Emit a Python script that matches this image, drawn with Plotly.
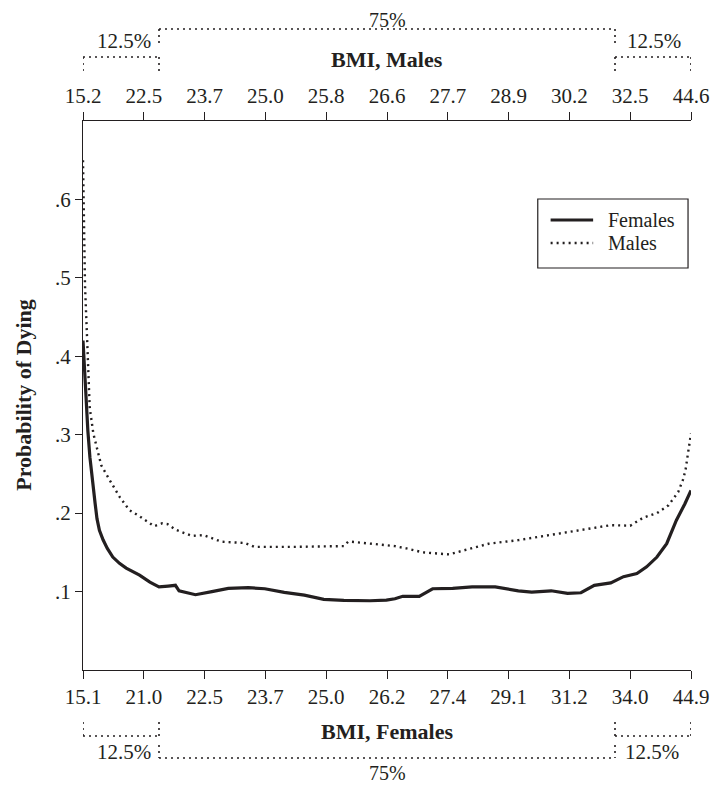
import plotly.graph_objects as go

# Percentile position (0-100) along the BMI distribution
female_pos = [0, 0.25, 0.5, 0.8, 1.14, 1.4, 1.7, 2.0, 2.3, 2.7, 3.3, 4.0, 4.9, 6.0, 7.1, 8.2, 9.3,
              11.0, 12.5, 14.0, 15.2, 15.8, 17.0, 18.5, 21.2, 23.9, 27.2, 29.9, 33.1, 36.4, 39.6,
              42.9, 47.2, 49.9, 51.3, 52.6, 55.3, 57.5, 60.8, 64.0, 67.8, 71.6, 73.8, 77.0, 79.7,
              81.9, 84.1, 86.8, 88.9, 91.1, 92.7, 94.4, 96.0, 97.6, 99.0, 100]
female_prob = [0.42, 0.38, 0.344, 0.305, 0.271, 0.25, 0.233, 0.212, 0.193, 0.178, 0.166, 0.155, 0.144,
               0.136, 0.130, 0.125, 0.121, 0.112, 0.106, 0.107, 0.108, 0.101, 0.099, 0.096, 0.100,
               0.104, 0.105, 0.1036, 0.099, 0.0955, 0.090, 0.0888, 0.0883, 0.089, 0.0908, 0.094,
               0.094, 0.1036, 0.104, 0.106, 0.106, 0.101, 0.0994, 0.101, 0.0977, 0.0985, 0.108,
               0.111, 0.119, 0.123, 0.1316, 0.144, 0.161, 0.191, 0.212, 0.229]

male_pos = [0, 0.15, 0.33, 0.7, 1.1, 1.7, 2.3, 3.0, 4.4, 6.0, 7.6, 9.3, 11.7, 13.0, 13.9, 15.2, 17.9,
            19.8, 22.8, 26.6, 28.2, 34.7, 42.9, 43.6, 44.2, 48.3, 49.9, 51.3, 53.2, 55.9, 60.2,
            63.5, 66.7, 71.6, 75.9, 79.2, 83.5, 86.8, 90.0, 92.2, 94.4, 96.3, 97.9, 98.7, 99.1,
            99.5, 99.8, 100]
male_prob = [0.65, 0.56, 0.49, 0.417, 0.335, 0.3015, 0.282, 0.261, 0.242, 0.221, 0.204, 0.196, 0.1834,
             0.187, 0.186, 0.179, 0.171, 0.172, 0.1635, 0.162, 0.157, 0.157, 0.158, 0.1635, 0.1635,
             0.160, 0.159, 0.158, 0.155, 0.150, 0.1474, 0.154, 0.161, 0.1656, 0.1707, 0.175,
             0.1805, 0.1847, 0.184, 0.1945, 0.200, 0.210, 0.227, 0.243, 0.255, 0.276, 0.289, 0.3015]

tick_pos = [0, 10, 20, 30, 40, 50, 60, 70, 80, 90, 100]
female_ticks = ["15.1", "21.0", "22.5", "23.7", "25.0", "26.2", "27.4", "29.1", "31.2", "34.0", "44.9"]
male_ticks = ["15.2", "22.5", "23.7", "25.0", "25.8", "26.6", "27.7", "28.9", "30.2", "32.5", "44.6"]
y_ticks = [0.1, 0.2, 0.3, 0.4, 0.5, 0.6]
y_ticktext = [".1", ".2", ".3", ".4", ".5", ".6"]
shares = [12.5, 75, 12.5]
share_labels = ["12.5%", "75%", "12.5%"]
legend_names = ["Females", "Males"]

FONT = "Liberation Serif"
INK = "#231f20"

# Page offset of the plot div (default body margin), window size
OFF = 8
W, H = 721, 786
# Plot area in page pixels
L, R, T, B = 83, 698, 121, 670


def py(px):
    return (B - px) / (B - T)


def pxx(px):
    return (px - L) / (R - L)


SOLID = dict(color=INK, width=3.2)
DOTTED = dict(color=INK, width=2.4, dash="2px,4px")

fig = go.Figure()
fig.add_trace(go.Scatter(x=female_pos, y=female_prob, mode="lines", name=legend_names[0],
                         line=SOLID, xaxis="x", yaxis="y", showlegend=False))
fig.add_trace(go.Scatter(x=male_pos, y=male_prob, mode="lines", name=legend_names[1],
                         line=DOTTED, xaxis="x2", yaxis="y", showlegend=False))

axis_common = dict(range=[0, 100], tickvals=tick_pos, showgrid=False, zeroline=False,
                   showline=True, linecolor=INK, linewidth=1.3, ticks="outside",
                   ticklen=8, tickwidth=1.3, tickcolor=INK,
                   tickfont=dict(family=FONT, size=21, color=INK))

fig.update_layout(
    width=W - OFF, height=H - OFF,
    margin=dict(l=L - OFF, r=W - R, t=T - OFF, b=H - B, pad=0),
    paper_bgcolor="white", plot_bgcolor="white",
    font=dict(family=FONT, color=INK, size=21),
    xaxis=dict(ticktext=female_ticks, side="bottom", anchor="y", **axis_common),
    xaxis2=dict(ticktext=male_ticks, side="top", anchor="y", overlaying="x", **axis_common),
    yaxis=dict(range=[0, 0.7], tickvals=y_ticks, ticktext=y_ticktext, showgrid=False,
               zeroline=False, showline=True, linecolor=INK, linewidth=1.3, ticks="outside",
               ticklen=7, tickwidth=1.3, tickcolor=INK,
               tickfont=dict(family=FONT, size=21, color=INK)),
    showlegend=False,
)

# Brackets
b1 = shares[0]
b2 = shares[0] + shares[1]
b3 = b2 + shares[2]
dot = dict(color=INK, width=1.6, dash="2px,4px")
segs = []
for (x0, x1) in [(0, b1), (b2, b3)]:
    segs += [(x0, 57, x1, 57), (x0, 57, x0, 71), (x1, 57, x1, 71)]
segs += [(b1, 29, b2, 29), (b1, 29, b1, 43), (b2, 29, b2, 43)]
for (x0, x1) in [(0, b1), (b2, b3)]:
    segs += [(x0, 736, x1, 736), (x0, 722, x0, 736), (x1, 722, x1, 736)]
segs += [(b1, 758, b2, 758), (b1, 745, b1, 758), (b2, 745, b2, 758)]
for (x0, y0, x1, y1) in segs:
    fig.add_shape(type="line", xref="x", yref="paper", x0=x0, x1=x1, y0=py(y0), y1=py(y1),
                  line=dot)

ann = []
ann.append(dict(x=b1, y=py(41), text=share_labels[0], xanchor="right", xshift=-6, size=21))
ann.append(dict(x=(b1 + b2) / 2, y=py(20), text=share_labels[1], xanchor="center", size=20))
ann.append(dict(x=b2, y=py(41), text=share_labels[2], xanchor="left", xshift=10, size=21))
ann.append(dict(x=b1, y=py(752), text=share_labels[0], xanchor="right", xshift=-6, size=21))
ann.append(dict(x=(b1 + b2) / 2, y=py(773), text=share_labels[1], xanchor="center", size=20))
ann.append(dict(x=b2, y=py(752), text=share_labels[2], xanchor="left", xshift=8, size=21))
for a in ann:
    sz = a.pop("size")
    a.update(xref="x", yref="paper", yanchor="middle", showarrow=False,
             font=dict(family=FONT, size=sz, color=INK))
    fig.add_annotation(**a)

fig.add_annotation(x=50, y=py(60), xref="x", yref="paper", text="<b>BMI, Males</b>",
                   showarrow=False, yanchor="middle",
                   font=dict(family=FONT, size=22, color=INK))
fig.add_annotation(x=50, y=py(731), xref="x", yref="paper", text="<b>BMI, Females</b>",
                   showarrow=False, yanchor="middle",
                   font=dict(family=FONT, size=22, color=INK))
fig.add_annotation(x=pxx(22), y=py(395), xref="paper", yref="paper",
                   text="<b>Probability of Dying</b>", textangle=-90, showarrow=False,
                   xanchor="center", yanchor="middle",
                   font=dict(family=FONT, size=22, color=INK))

# Legend box drawn in the plot area
fig.add_shape(type="rect", xref="paper", yref="paper", x0=pxx(543), x1=pxx(695),
              y0=py(268), y1=py(199), line=dict(color=INK, width=1.2), fillcolor="white",
              layer="above")
for i, (nm, st) in enumerate(zip(legend_names, [SOLID, DOTTED])):
    yy = py(220 + 23 * i)
    fig.add_shape(type="line", xref="paper", yref="paper", x0=pxx(556), x1=pxx(599),
                  y0=yy, y1=yy, line=st, layer="above")
    fig.add_annotation(x=pxx(612), y=yy, xref="paper", yref="paper", text=nm,
                       showarrow=False, xanchor="left", yanchor="middle",
                       font=dict(family=FONT, size=20, color=INK))

fig.write_html("out.html")
